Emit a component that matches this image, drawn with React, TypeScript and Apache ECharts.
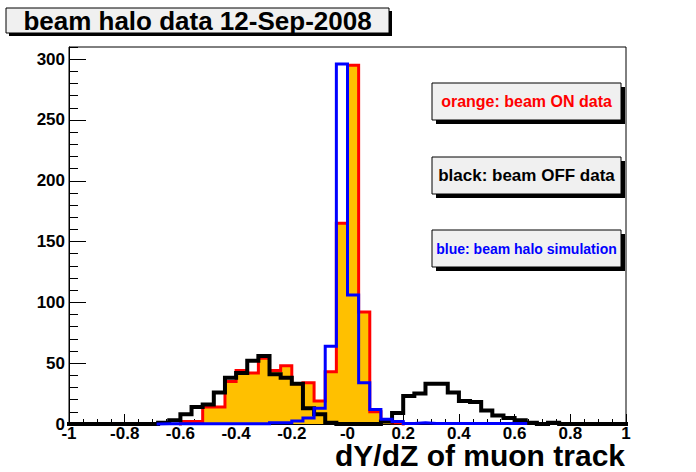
import React, { useRef, useEffect } from 'react';
import * as echarts from 'echarts';

// 50 bins of width 0.04 from -1 to 1
const BIN_MIN = -1;
const BIN_WIDTH = 0.04;

// orange/red: beam ON data
const beamOn = [
  0, 0, 0, 0, 0, 0, 0, 0, 0, 0,
  2, 2, 14, 14, 35, 44, 42, 54, 44, 48,
  33, 34, 19, 43, 165, 295, 92, 10, 2, 1,
  0, 0, 0, 0, 0, 0, 0, 0, 0, 0,
  0, 0, 0, 0, 0, 0, 0, 0, 0, 0,
];

// black: beam OFF data
const beamOff = [
  0, 0, 0, 0, 0, 0, 0, 0, 1, 3,
  8, 14, 16, 26, 38, 42, 52, 56, 41, 38,
  33, 13, 8, 1, 0, 0, 0, 0, 2, 9,
  23, 25, 33, 33, 26, 19, 18, 11, 7, 5,
  3, 1, 0, 1, 0, 0, 0, 0, 0, 0,
];

// blue: beam halo simulation
const haloSim = [
  0, 0, 0, 0, 0, 0, 0, 0, 0.3, 0.3,
  0.3, 0.3, 0.3, 0.3, 0.3, 0.3, 0.3, 0.3, 1, 1,
  2.5, 5, 13, 64, 296, 106, 34, 12, 4, 2,
  0.5, 1, 0.5, 0.5, 0.5, 0.5, 0.5, 0.5, 0.5, 0.5,
  0.5, 0, 0, 0, 0, 0, 0, 0, 0, 0,
];

const titleText = 'beam halo data 12-Sep-2008';
const xTitle = 'dY/dZ of muon track';
const legendLabels = ['orange: beam ON data', 'black: beam OFF data', 'blue: beam halo simulation'];

const FONT = "'Liberation Sans', Arial, Helvetica, sans-serif";

const edge = (k: number) => Number((BIN_MIN + k * BIN_WIDTH).toFixed(4));

// histogram outline: points at bin edges, trimmed to non-empty range unless fullRange
function outline(counts: number[], fullRange: boolean) {
  let s = 0;
  let t = counts.length - 1;
  if (!fullRange) {
    s = counts.findIndex((v) => v > 0);
    while (t > 0 && counts[t] <= 0) t--;
  }
  const pts: number[][] = [[edge(s), 0]];
  for (let k = s; k <= t; k++) {
    pts.push([edge(k), counts[k]], [edge(k + 1), counts[k]]);
  }
  pts.push([edge(t + 1), 0]);
  return pts;
}

function boxWithShadow(x: number, y: number, w: number, h: number, sh: number, text: string, color: string, fontSize: number) {
  return {
    type: 'group',
    children: [
      { type: 'rect', shape: { x: x + sh, y: y + sh, width: w, height: h }, style: { fill: '#000' } },
      { type: 'rect', shape: { x, y, width: w, height: h }, style: { fill: '#f0f0f0', stroke: '#000', lineWidth: 1 } },
      {
        type: 'text',
        x: x + w / 2,
        y: y + h / 2,
        style: {
          text,
          fill: color,
          font: `bold ${fontSize}px ${FONT}`,
          align: 'center',
          verticalAlign: 'middle',
        },
      },
    ],
  };
}

const App: React.FC = () => {
  const chartRef = useRef<HTMLDivElement>(null);

  useEffect(() => {
    if (!chartRef.current) return;
    const chart = echarts.init(chartRef.current, null, { renderer: 'svg' });

    const lineSeries = (name: string, data: number[][], color: string, width: number, z: number, fill?: string) => ({
      name,
      type: 'line',
      data,
      xAxisIndex: 0,
      yAxisIndex: 0,
      showSymbol: false,
      symbol: 'none',
      clip: false,
      z,
      lineStyle: { color, width, join: 'miter', cap: 'square' },
      areaStyle: fill ? { color: fill, opacity: 1 } : undefined,
    });

    const option: echarts.EChartsOption = {
      animation: false,
      backgroundColor: '#fff',
      grid: {
        left: 69,
        top: 47,
        width: 557,
        height: 377,
        show: true,
        borderColor: '#000',
        borderWidth: 1,
        backgroundColor: '#fff',
      },
      xAxis: {
        type: 'value',
        min: -1,
        max: 1,
        interval: 0.2,
        axisLine: { show: true, onZero: false, lineStyle: { color: '#000', width: 1 } },
        axisTick: { show: true, inside: true, length: 10, lineStyle: { color: '#000' } },
        minorTick: { show: true, splitNumber: 4, length: 5, lineStyle: { color: '#000' } },
        splitLine: { show: false },
        axisLabel: {
          margin: 1,
          color: '#000',
          fontFamily: FONT,
          fontWeight: 'bold',
          fontSize: 17,
          hideOverlap: false,
          formatter: (v: number) => (Math.abs(v) < 1e-6 ? '-0' : String(Math.round(v * 10) / 10)),
        },
      },
      yAxis: [
        {
          type: 'value',
          min: 0,
          max: 310,
          interval: 50,
          position: 'left',
          axisLine: { show: true, onZero: false, lineStyle: { color: '#000', width: 1 } },
          axisTick: { show: true, inside: true, length: 17, lineStyle: { color: '#000' } },
          splitLine: { show: false },
          axisLabel: {
            margin: 4,
            color: '#000',
            fontFamily: FONT,
            fontWeight: 'bold',
            fontSize: 17,
            showMaxLabel: false,
          },
        },
        {
          type: 'value',
          min: 0,
          max: 310,
          interval: 10,
          position: 'left',
          axisLine: { show: false, onZero: false },
          axisTick: { show: true, inside: true, length: 9, lineStyle: { color: '#000' } },
          splitLine: { show: false },
          axisLabel: { show: false },
        },
      ],
      series: [
        lineSeries('beam ON', outline(beamOn, false), '#ff0000', 3, 2, '#ffc000'),
        lineSeries('beam OFF', outline(beamOff, true), '#000000', 4, 3),
        lineSeries('simulation', outline(haloSim, false), '#0000ff', 3, 4),
      ] as any,
      graphic: [
        boxWithShadow(6, 8, 383, 25, 3, titleText, '#000', 26),
        boxWithShadow(432, 83, 189, 37, 4, legendLabels[0], '#ff0000', 16),
        boxWithShadow(432, 157, 189, 37, 4, legendLabels[1], '#000000', 17),
        boxWithShadow(432, 230, 189, 37, 4, legendLabels[2], '#0000ff', 14),
        {
          type: 'text',
          x: 625,
          y: 455,
          style: {
            text: xTitle,
            fill: '#000',
            font: `bold 30px ${FONT}`,
            align: 'right',
            verticalAlign: 'middle',
          },
        },
      ] as any,
    };

    chart.setOption(option);

    return () => {
      chart.dispose();
    };
  }, []);

  return (
    <div
      ref={chartRef}
      style={{ position: 'fixed', left: 0, top: 0, width: 696, height: 472, background: '#fff' }}
    />
  );
};

export default App;
